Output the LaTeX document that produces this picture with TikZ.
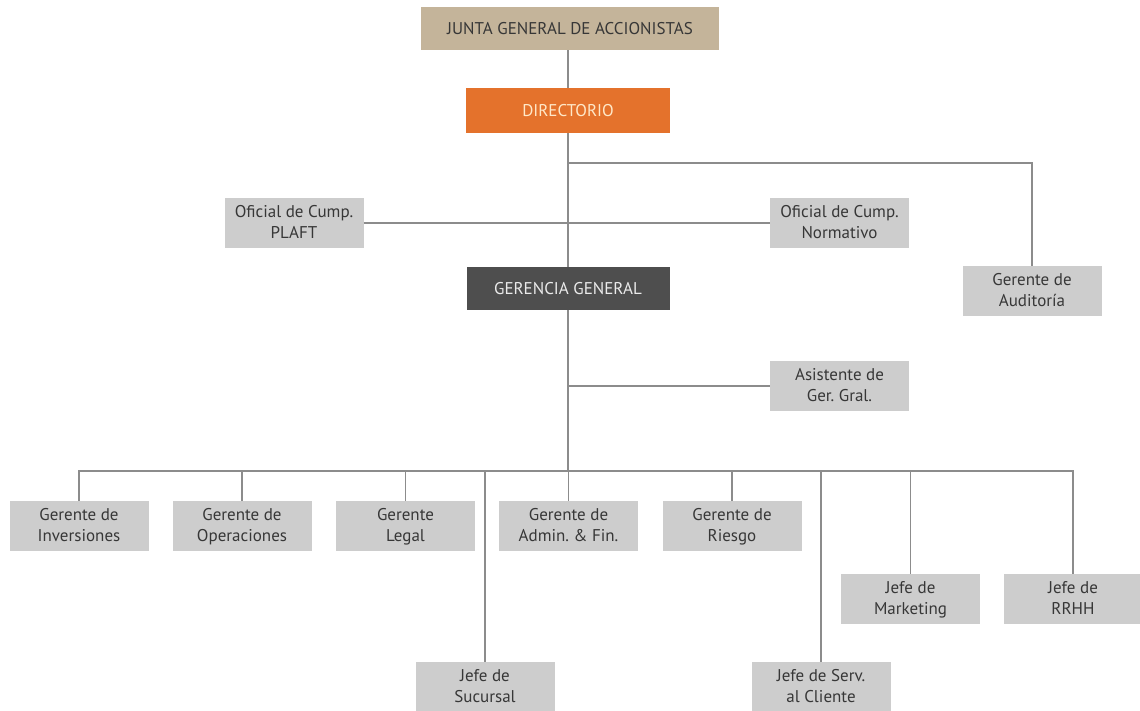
\documentclass[tikz,border=0pt]{standalone}
\usepackage{fontspec}
\setmainfont{PT Sans}
\usepackage{tikz}
\frenchspacing
\definecolor{tan}{RGB}{196,180,154}
\definecolor{naranja}{RGB}{228,114,44}
\definecolor{oscuro}{RGB}{78,78,78}
\definecolor{claro}{RGB}{205,205,205}
\definecolor{texto}{RGB}{55,55,55}
\definecolor{linea}{RGB}{140,140,140}

\tikzset{
	box/.style={rectangle, inner sep=0pt, align=center, font=\fontsize{17}{21}\selectfont},
	gbox/.style={box, fill=claro, text=texto, text depth=1.5pt, minimum width=139, minimum height=50},
	con/.style={draw=linea, line width=1.4pt}
}

\begin{document}
\begin{tikzpicture}[x=1pt, y=-1pt]
	\useasboundingbox (0,0) rectangle (1140,711);
	\node[box, fill=tan, text=texto, minimum width=298, minimum height=43] (junta) at (570,28.5) {JUNTA GENERAL DE ACCIONISTAS};
	\node[box, fill=naranja, text={rgb,255:red,255;green,232;blue,200}, minimum width=204, minimum height=45] (dir) at (568,110.5) {DIRECTORIO};
	\node[gbox] (plaft) at (294,223) {Oficial de Cump.\\PLAFT};
	\node[gbox] (norm) at (839.5,223) {Oficial de Cump.\\Normativo};
	\node[box, fill=oscuro, text={rgb,255:red,235;green,235;blue,235}, minimum width=203, minimum height=43] (gg) at (568,288.5) {GERENCIA GENERAL};
	\node[gbox] (audit) at (1032,291) {Gerente de\\Auditoría};
	\node[gbox] (asist) at (839.5,386) {Asistente de\\Ger. Gral.};
	
	\node[gbox] (inv) at (79,526) {Gerente de\\Inversiones};
	\node[gbox] (oper) at (242,526) {Gerente de\\Operaciones};
	\node[gbox] (legal) at (405.5,526) {Gerente\\Legal};
	\node[gbox] (admin) at (568.5,526) {Gerente de\\Admin. \& Fin.};
	\node[gbox] (riesgo) at (732,526) {Gerente de\\Riesgo};
	\node[gbox] (mkt) at (910.5,599) {Jefe de\\Marketing};
	\node[gbox] (rrhh) at (1073,599) {Jefe de\\RRHH};
	\node[gbox] (suc) at (485,687) {Jefe de\\Sucursal};
	\node[gbox] (serv) at (821,687) {Jefe de Serv.\\al Cliente};
	
	\coordinate (jaud) at (568,163);
	\coordinate (jasi) at (568,386);
	\coordinate (bus) at (568,471);
	
	% linea principal
	\draw[con] (junta.south -| dir.north) -- (dir.north);
	\draw[con] (dir.south) -- (gg.north);
	\draw[con] (gg.south) -- (bus);
	% staff
	\draw[con] (jaud) -| (audit.north);
	\draw[con] (plaft.east) -- (norm.west);
	\draw[con] (jasi) -- (asist.west);
	% gerencias
	\foreach \n in {inv, oper, legal, admin, riesgo, mkt, rrhh, suc, serv}
		\draw[con] (bus) -| (\n.north);
\end{tikzpicture}
\end{document}
